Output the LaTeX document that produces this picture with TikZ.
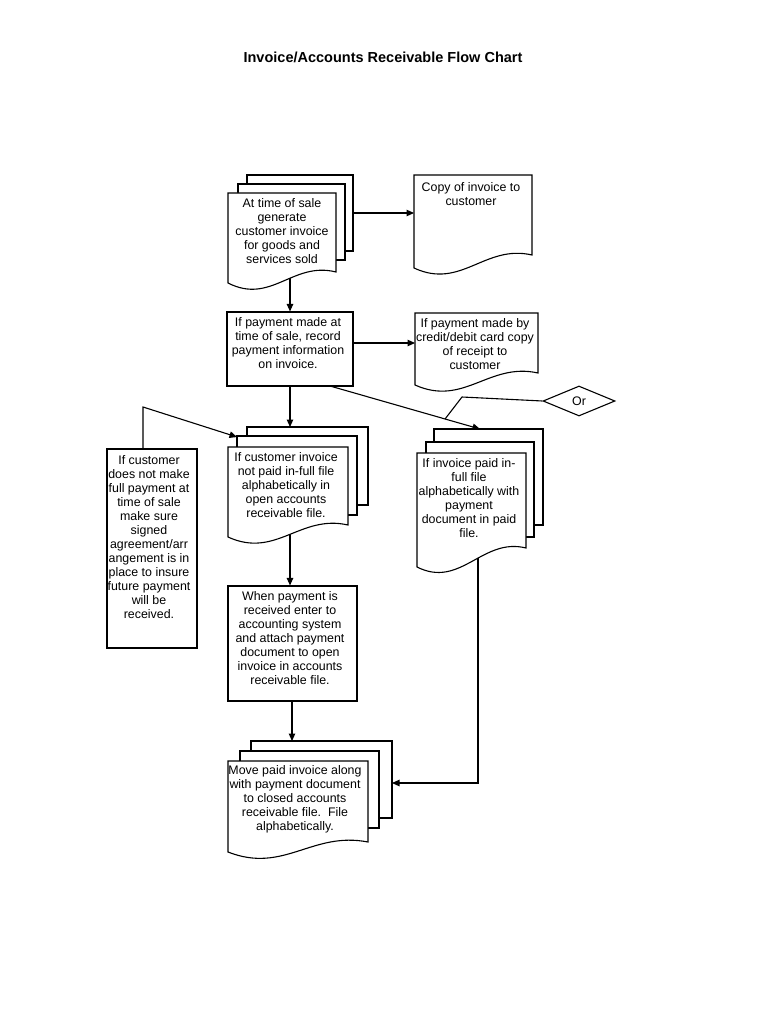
\documentclass[tikz,border=0pt]{standalone}
\usepackage{fontspec}
\setmainfont{Liberation Sans}
\usetikzlibrary{shapes.geometric,arrows.meta,calc}
\pgfdeclarelayer{bg}
\pgfsetlayers{bg,main}
\newcommand{\docfront}[5]{\draw[shp] (#1,#2) -- (#3,#2) -- (#3,{#4-#5}) .. controls ({#1+0.6*(#3-#1)},{#4-#5-11}) and ({#1+0.4*(#3-#1)},{#4+22}) .. (#1,#4) -- cycle;}
\newcommand{\pagerect}[4]{\draw[shp] (#1,#2) rectangle (#3,#4);}
\begin{document}
\begin{tikzpicture}[x=1pt,y=-1pt,
  shp/.style={draw=black, fill=white, line width=1.1pt, line join=miter},
  txt/.style={align=center, font=\fontsize{12.4}{14}\selectfont, inner sep=0pt},
  box/.style={draw=black, fill=white, line width=1.1pt, inner sep=0pt},
  conn/.style={line width=1.1pt},
  arr/.style={conn, -{Triangle[length=7.5pt,width=6.5pt]}}]
\begin{pgfonlayer}{bg}
\fill[white] (0,0) rectangle (768,1024);
\end{pgfonlayer}
\useasboundingbox (0,0) rectangle (768,1024);

\node[font=\bfseries\fontsize{14.5}{17}\selectfont] (title) at (383,57) {Invoice/Accounts Receivable Flow Chart};

% doc1
\pagerect{247}{175}{353}{251}
\pagerect{238}{184}{345}{260}
\docfront{228}{193}{336}{283}{11}
\node[txt] (d1) at (282,231) {At time of sale\\generate\\customer invoice\\for goods and\\services sold};

% copy doc
\docfront{414}{175}{532}{268}{13}
\node[txt] (cp) at (471,194.5) {Copy of invoice to\\customer};

% box2
\node[box, minimum width=126pt, minimum height=74pt] (b2) at (290,349) {};
\node[txt] (b2t) at (288,343) {If payment made at\\time of sale, record\\payment information\\on invoice.};

% card doc
\docfront{415}{313}{538}{385}{12}
\node[txt] (cd) at (475,344) {If payment made by\\credit/debit card copy\\of receipt to\\customer};

% diamond
\node[draw=black, fill=white, line width=1.1pt, diamond, minimum width=72pt, minimum height=30pt, inner sep=0pt, font=\fontsize{12.4}{14}\selectfont] (or) at (579,401) {Or};

% doc3
\pagerect{247}{427}{368}{505}
\pagerect{237}{436}{357}{515}
\docfront{228}{447}{348}{537}{12}
\node[txt] (d3) at (286,485) {If customer invoice\\not paid in-full file\\alphabetically in\\open accounts\\receivable file.};

% left box
\node[box, minimum width=90pt, minimum height=199pt] (lb) at (152,548.5) {};
\node[txt] (lbt) at (149,537) {If customer\\does not make\\full payment at\\time of sale\\make sure\\signed\\agreement/arr\\angement is in\\place to insure\\future payment\\will be\\received.};

% box5
\node[box, minimum width=129pt, minimum height=115pt] (b5) at (292.5,643.5) {};
\node[txt] (b5t) at (290,638) {When payment is\\received enter to\\accounting system\\and attach payment\\document to open\\invoice in accounts\\receivable file.};

% doc4
\pagerect{434}{429}{543}{525}
\pagerect{426}{442}{534}{537}
\docfront{417}{453}{526}{567}{19}
\node[txt] (d4) at (469,498) {If invoice paid in-\\full file\\alphabetically with\\payment\\document in paid\\file.};

% doc6
\pagerect{251}{741}{392}{818}
\pagerect{240}{751}{379}{828}
\docfront{228}{761}{368}{852}{10}
\node[txt] (d6) at (295,799.5) {Move paid invoice along\\with payment document\\to closed accounts\\receivable file.\ \ File\\alphabetically.};

% connector coordinates
\coordinate (d1e) at (353,213);
\coordinate (cpw) at (414,213);
\coordinate (d1s) at (290,270);
\coordinate (cdw) at (415,343);
\coordinate (d3n) at (290,427);
\coordinate (b2d) at (330,386);
\coordinate (d4n) at (480,429);
\coordinate (orb) at (462,397);
\coordinate (lbk) at (143,407);
\coordinate (d3w) at (237,437);
\coordinate (d3s) at (290,525);
\coordinate (d6n) at (292,741);
\coordinate (d4s) at (478,555);
\coordinate (d6e) at (392,783);

\begin{pgfonlayer}{bg}
\draw[arr] (d1e) -- (cpw);
\draw[arr] (d1s) -- (b2.north);
\draw[arr] (b2t -| b2.east) -- (cdw);
\draw[arr] (b2.south) -- (d3n);
\draw[arr] (b2d) -- (d4n);
\coordinate (ore) at ($(b2d)!0.767!(d4n)$);
\draw[conn] (or.west) -- (orb) -- (ore);
\draw[arr] (lb.north -| lbk) -- (lbk) -- (d3w);
\draw[arr] (d3s) -- (d3s |- b5.north);
\draw[arr] (b5.south -| d6n) -- (d6n);
\draw[arr] (d4s) -- (d4s |- d6e) -- (d6e);
\end{pgfonlayer}
\end{tikzpicture}
\end{document}
